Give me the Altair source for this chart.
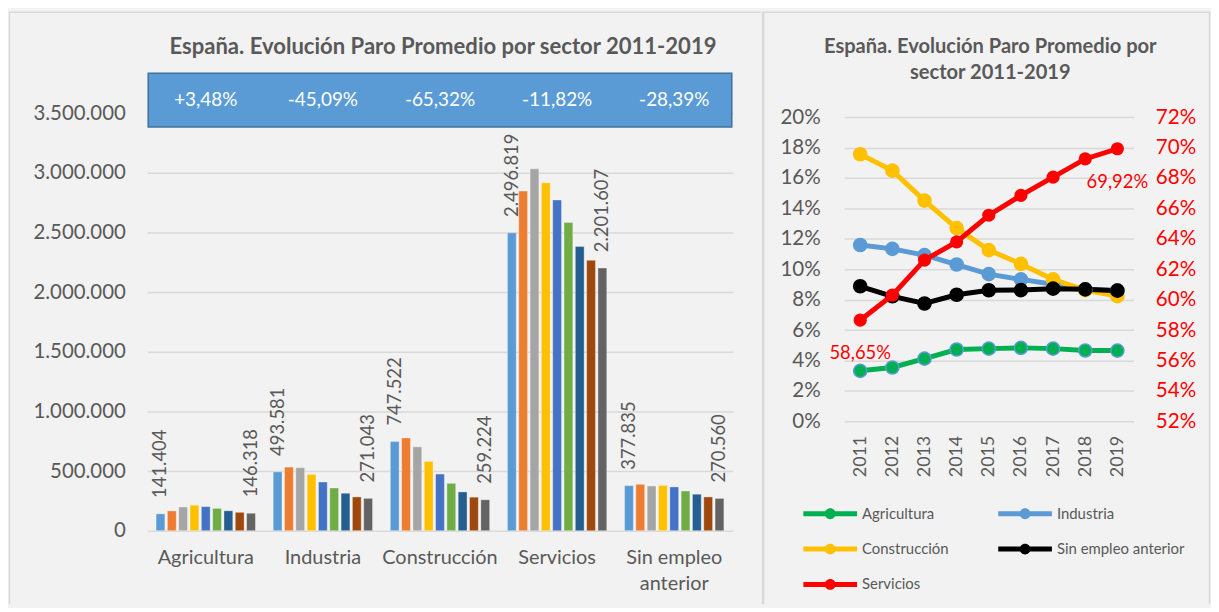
import altair as alt
import pandas as pd

# ---------------- data ----------------
categories = ["Agricultura", "Industria", "Construcción", "Servicios", "Sin empleo anterior"]
years = [2011, 2012, 2013, 2014, 2015, 2016, 2017, 2018, 2019]

paro_agricultura = [141404, 166000, 199000, 214000, 202000, 187000, 167000, 154000, 146318]
paro_industria = [493581, 533000, 528000, 472000, 408000, 358000, 314000, 283000, 271043]
paro_construccion = [747522, 778000, 703000, 581000, 475000, 397000, 325000, 281000, 259224]
paro_servicios = [2496819, 2847000, 3033000, 2917000, 2772000, 2583000, 2383000, 2267000, 2201607]
paro_sin_empleo = [377835, 389000, 375000, 380000, 367000, 333000, 306000, 283000, 270560]

variacion = ["+3,48%", "-45,09%", "-65,32%", "-11,82%", "-28,39%"]

peso_agricultura = [0.0332, 0.0354, 0.0412, 0.0472, 0.0478, 0.0483, 0.0478, 0.0466, 0.0465]
peso_industria = [0.1159, 0.1134, 0.1093, 0.1031, 0.0968, 0.0933, 0.0901, 0.0868, 0.0861]
peso_construccion = [0.1756, 0.1648, 0.1451, 0.1270, 0.1126, 0.1035, 0.0933, 0.0863, 0.0823]
peso_sin_empleo = [0.0888, 0.0822, 0.0775, 0.0832, 0.0862, 0.0863, 0.0872, 0.0868, 0.0859]
peso_servicios = [0.5865, 0.6030, 0.6260, 0.6380, 0.6555, 0.6685, 0.6805, 0.6925, 0.6992]

titulo = "España. Evolución Paro Promedio por sector 2011-2019"
titulo_l1 = "España. Evolución Paro Promedio por"
titulo_l2 = "sector 2011-2019"

# ---------------- styles ----------------
FONT = "Lato"
GREY = "#595959"
GRID = "#D9D9D9"
BORDER = "#D9D9D9"
bar_colors = ["#5B9BD5", "#ED7D31", "#A5A5A5", "#FFC000", "#4472C4",
              "#70AD47", "#255E91", "#9E480E", "#636363"]
legend_order = ["Agricultura", "Industria", "Construcción", "Sin empleo anterior", "Servicios"]
series_colors = ["#00B050", "#5B9BD5", "#FFC000", "#000000", "#FF0000"]

# ---------------- tables ----------------
paro = {
    "Agricultura": paro_agricultura,
    "Industria": paro_industria,
    "Construcción": paro_construccion,
    "Servicios": paro_servicios,
    "Sin empleo anterior": paro_sin_empleo,
}
df_bars = pd.DataFrame(
    [{"sector": s, "year": y, "value": v} for s in categories for y, v in zip(years, paro[s])]
)
df_var = pd.DataFrame({"sector": categories, "label": variacion})

pesos_left = {
    "Agricultura": peso_agricultura,
    "Industria": peso_industria,
    "Construcción": peso_construccion,
    "Sin empleo anterior": peso_sin_empleo,
}
df_lines = pd.DataFrame(
    [{"series": s, "year": y, "value": v} for s in pesos_left for y, v in zip(years, pesos_left[s])]
)
df_serv = pd.DataFrame({"series": "Servicios", "year": years, "value": peso_servicios})
one = alt.Data(values=[{}])

# ---------------- left chart ----------------
W1, H1 = 589, 420
x_sector = alt.X(
    "sector:N", sort=categories,
    scale=alt.Scale(paddingInner=0.142, paddingOuter=0.071),
    axis=alt.Axis(
        title=None, labelFontSize=20, labelColor=GREY, labelFont=FONT, domain=False,
        ticks=False, labelPadding=17, labelAngle=0, labelLineHeight=26, labelBaseline="top",
        labelExpr="datum.label == 'Sin empleo anterior' ? ['Sin empleo', 'anterior'] : datum.label",
    ),
)
x_year_off = alt.XOffset("year:O", scale=alt.Scale(paddingInner=0.22, paddingOuter=0.05))
y_paro = alt.Y(
    "value:Q",
    scale=alt.Scale(domain=[0, 3500000], nice=False),
    axis=alt.Axis(
        title=None, values=list(range(0, 3500001, 500000)), format=",.0f",
        labelFontSize=20.5, labelColor=GREY, labelFont=FONT, grid=True, gridColor=GRID,
        gridWidth=1.5, domain=False, ticks=False, labelPadding=22,
    ),
)

bars = alt.Chart(df_bars).mark_bar(stroke="white", strokeOpacity=0.35, strokeWidth=1).encode(
    x=x_sector, xOffset=x_year_off, y=y_paro,
    color=alt.Color("year:O", scale=alt.Scale(domain=years, range=bar_colors), legend=None),
)
bar_labels = alt.Chart(df_bars).transform_filter(
    "datum.year == 2011 || datum.year == 2019"
).mark_text(angle=270, align="left", baseline="middle", dx=16, fontSize=18.5,
            font=FONT, color=GREY).encode(
    x=x_sector, xOffset=x_year_off, y=y_paro, text=alt.Text("value:Q", format=",.0f"),
)
box = alt.Chart(one).mark_rect(color="#5B9BD5", stroke="#41719C", strokeWidth=1.5).encode(
    x=alt.value(1), x2=alt.value(W1 - 1), y=alt.value(-40), y2=alt.value(14)
)
box_text = alt.Chart(df_var).mark_text(color="white", fontSize=19, font=FONT).encode(
    x=x_sector, y=alt.value(-13), text="label:N"
)
title_left = alt.Chart(one).mark_text(
    fontSize=22.2, fontWeight="bold", font=FONT, color=GREY, baseline="middle"
).encode(x=alt.value(W1 / 2 + 3), y=alt.value(-66), text=alt.value(titulo))
top_left = alt.Chart(one).mark_rule(color=BORDER, strokeWidth=1.5).encode(
    x=alt.value(-139), x2=alt.value(617), y=alt.value(-101.5)
)
side_left = alt.Chart(one).mark_rule(color=BORDER, strokeWidth=1.5).encode(
    x=alt.value(-138.5), y=alt.value(-102), y2=alt.value(494)
)

left = alt.layer(bars, bar_labels, box, box_text, title_left, top_left, side_left).properties(
    width=W1, height=H1
)

# ---------------- right chart ----------------
# plot area keeps 4 px of headroom above the 20% / 72% gridline
W2, H2 = 291, 310
HEAD = 0.2 * 4 / 306
x_year = alt.X(
    "year:O", scale=alt.Scale(type="point", padding=0.5),
    axis=alt.Axis(title=None, labelAngle=270, labelFontSize=18, labelColor=GREY, labelFont=FONT,
                  domain=False, ticks=False, labelPadding=14),
)
y_left = alt.Y(
    "value:Q", scale=alt.Scale(domain=[0, 0.2 + HEAD], nice=False),
    axis=alt.Axis(title=None, values=[i / 100 for i in range(0, 21, 2)], format=".0%",
                  labelFontSize=20.7, labelColor=GREY, labelFont=FONT, grid=True,
                  gridColor=GRID, gridWidth=1.5, domain=False, ticks=False, labelPadding=24),
)
y_right = alt.Y(
    "value:Q", scale=alt.Scale(domain=[0.52, 0.72 + HEAD], nice=False),
    axis=alt.Axis(title=None, orient="right", values=[i / 100 for i in range(52, 73, 2)],
                  format=".0%", labelFontSize=20.7, labelColor="#FF0000", labelFont=FONT,
                  grid=False, domain=False, ticks=False, labelPadding=22),
)
sym_path = ("M-2.7,-0.25H2.7V0.25H-2.7Z "
            "M-0.55,0A0.55,0.55 0 1,1 0.55,0A0.55,0.55 0 1,1 -0.55,0Z")
color = alt.Color(
    "series:N", scale=alt.Scale(domain=legend_order, range=series_colors),
    legend=alt.Legend(
        title=None, orient="none", legendX=-24, legendY=393, columns=2, direction="horizontal",
        symbolType=sym_path, symbolSize=400, symbolStrokeWidth=0, symbolOpacity=1,
        labelFontSize=15, labelColor=GREY, labelFont=FONT, labelOffset=22, rowPadding=17.5,
        columnPadding=49,
    ),
)
lines_l = alt.Chart(df_lines).mark_line(strokeWidth=5).encode(x=x_year, y=y_left, color=color)
points_l = alt.Chart(df_lines).mark_circle(size=175, opacity=1, strokeWidth=1.5).encode(
    x=x_year, y=y_left, color=color,
    stroke=alt.Stroke("series:N",
                      scale=alt.Scale(domain=legend_order[:4],
                                      range=["#5B9BD5", "#5B9BD5", "#FFC000", "#000000"]),
                      legend=None),
)
lines_s = alt.Chart(df_serv).mark_line(strokeWidth=5).encode(x=x_year, y=y_right, color=color)
points_s = alt.Chart(df_serv).mark_circle(size=175, opacity=1).encode(
    x=x_year, y=y_right, color=color
)
labels_s = alt.Chart(df_serv).transform_filter(
    "datum.year == 2011 || datum.year == 2019"
).mark_text(color="#FF0000", fontSize=18.5, font=FONT, dy=33).encode(
    x=x_year, y=y_right, text=alt.Text("value:Q", format=".2%")
)
left_layer = alt.layer(lines_l, points_l)
right_layer = alt.layer(lines_s, points_s, labels_s)

title_r1 = alt.Chart(one).mark_text(
    fontSize=20.2, fontWeight="bold", font=FONT, color=GREY, baseline="middle"
).encode(x=alt.value(147), y=alt.value(-66), text=alt.value(titulo_l1))
title_r2 = alt.Chart(one).mark_text(
    fontSize=20.2, fontWeight="bold", font=FONT, color=GREY, baseline="middle"
).encode(x=alt.value(147), y=alt.value(-40), text=alt.value(titulo_l2))
sep = alt.Chart(one).mark_rule(color=BORDER, strokeWidth=2.5).encode(
    x=alt.value(-81.5), y=alt.value(-102), y2=alt.value(494)
)
top_right = alt.Chart(one).mark_rule(color=BORDER, strokeWidth=1.5).encode(
    x=alt.value(-82), x2=alt.value(368), y=alt.value(-101.5)
)
side_right = alt.Chart(one).mark_rule(color=BORDER, strokeWidth=1.5).encode(
    x=alt.value(367.5), y=alt.value(-102), y2=alt.value(494)
)

right = alt.layer(left_layer, right_layer, title_r1, title_r2, sep, top_right, side_right).resolve_scale(
    y="independent"
).properties(width=W2, height=H2)

chart = alt.hconcat(left, right, spacing=0, padding=0).resolve_scale(
    color="independent", stroke="independent"
).resolve_legend(color="independent").configure(
    background="#F2F2F2",
    locale={"number": {"decimal": ",", "thousands": ".", "grouping": [3], "currency": ["", " €"]}},
).configure_view(stroke=None).configure_text(font=FONT)

chart.save("out.html", embed_options={"renderer": "svg", "actions": False})
